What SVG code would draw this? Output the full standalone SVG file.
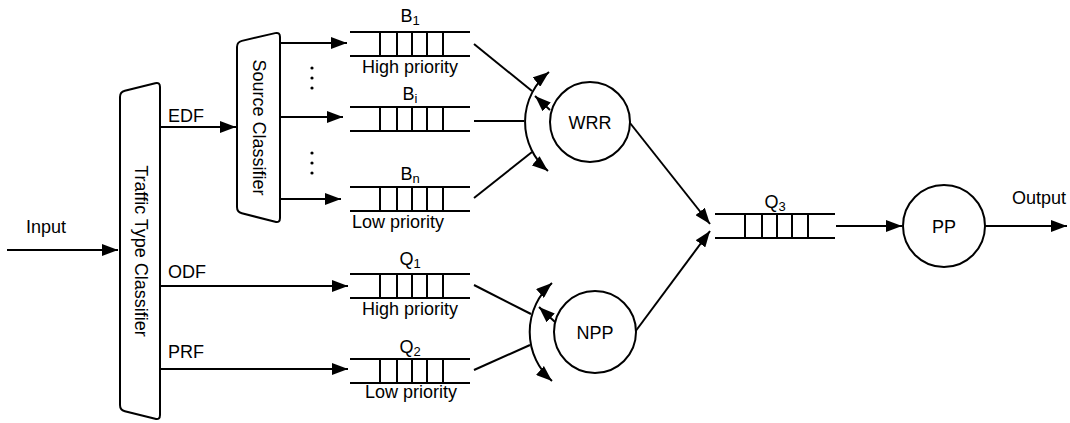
<svg xmlns="http://www.w3.org/2000/svg" xmlns:xlink="http://www.w3.org/1999/xlink" width="1070" height="423" viewBox="0 0 1070 423">
<style>
  text { font-family: "Liberation Sans", Arial, sans-serif; font-size: 18px; fill: #000; }
  .mid { text-anchor: middle; }
  .sub { font-size: 13px; }
  .shape { fill: #fff; stroke: #000; stroke-width: 2; stroke-linejoin: round; }
  .ln { fill: none; stroke: #000; stroke-width: 2; }
  .q { fill: none; stroke: #000; stroke-width: 2; }
  .arr { marker-end: url(#ah); }
  .dot { fill: #000; }
</style>
<defs>
  <marker id="ah" markerUnits="userSpaceOnUse" markerWidth="16" markerHeight="12" viewBox="0 0 16 12" refX="16" refY="6" orient="auto-start-reverse">
    <path d="M0,0 L16,6 L0,12 Z" fill="#000"/>
  </marker>
  <g id="queue" class="q">
    <path d="M0,0 H120 M0,24 H120 M30,0 V24 M47,0 V24 M62,0 V24 M77,0 V24 M93,0 V24"/>
  </g>
</defs>
<rect width="1070" height="423" fill="#fff"/>

<g id="connectors">
  <path class="ln arr" d="M7,250 L118,250"/>
  <path class="ln arr" d="M160,127 L236,127"/>
  <path class="ln arr" d="M280,43 L347,43"/>
  <path class="ln arr" d="M280,117 L343,117"/>
  <path class="ln arr" d="M280,199 L341,199"/>
  <path class="ln arr" d="M160,286 L348,286"/>
  <path class="ln arr" d="M160,369 L348,369"/>
  <path class="ln" d="M474,44 L532,91"/>
  <path class="ln" d="M474,121 L524,121"/>
  <path class="ln" d="M474,198 L532,152"/>
  <path class="ln arr" d="M550,110 L535,96"/>
  <path class="ln" d="M549,72 A64,64 0 0 0 548,171" marker-start="url(#ah)" marker-end="url(#ah)"/>
  <path class="ln" d="M474,285 L531,314"/>
  <path class="ln" d="M474,370 L530,345"/>
  <path class="ln arr" d="M555,322 L539,307"/>
  <path class="ln" d="M552,283 A65,65 0 0 0 552,381" marker-start="url(#ah)" marker-end="url(#ah)"/>
  <path class="ln arr" d="M630,123 L710,224"/>
  <path class="ln arr" d="M635,332 L710,231"/>
  <path class="ln arr" d="M836,226 L902,226"/>
  <path class="ln arr" d="M985,226 L1067,226"/>
  <text x="26" y="233">Input</text>
  <text x="168" y="122">EDF</text>
  <text x="168" y="278">ODF</text>
  <text x="168" y="358">PRF</text>
  <text x="1012" y="204">Output</text>
  <circle class="dot" cx="312" cy="68" r="1.6"/>
  <circle class="dot" cx="312" cy="78" r="1.6"/>
  <circle class="dot" cx="312" cy="88" r="1.6"/>
  <circle class="dot" cx="312" cy="153" r="1.6"/>
  <circle class="dot" cx="312" cy="163" r="1.6"/>
  <circle class="dot" cx="312" cy="173" r="1.6"/>
</g>

<g id="traffic-type-classifier">
  <path class="shape" d="M120,97 Q120,92 124.85,90.79 L155.15,83.21 Q160,82 160,87 L160,415 Q160,420 155.15,418.79 L124.85,411.21 Q120,410 120,405 Z"/>
  <text class="mid" transform="translate(141,251) rotate(90)" x="0" y="6">Traffic Type Classifier</text>
</g>

<g id="source-classifier">
  <path class="shape" d="M237,47 Q237,42 241.87,40.87 L275.13,33.13 Q280,32 280,37 L280,218 Q280,223 275.16,221.76 L241.84,213.24 Q237,212 237,207 Z"/>
  <text class="mid" transform="translate(259,127.5) rotate(90)" x="0" y="6">Source Classifier</text>
</g>

<g id="B1">
  <use href="#queue" x="350" y="32"/>
  <text class="mid" x="410" y="22">B<tspan class="sub" dy="3">1</tspan></text>
  <text class="mid" x="410" y="73">High priority</text>
</g>

<g id="Bi">
  <use href="#queue" x="350" y="107"/>
  <text class="mid" x="410" y="100">B<tspan class="sub" dy="3">i</tspan></text>
</g>

<g id="Bn">
  <use href="#queue" x="350" y="187"/>
  <text class="mid" x="410" y="180">B<tspan class="sub" dy="3">n</tspan></text>
  <text x="352" y="228">Low priority</text>
</g>

<g id="Q1">
  <use href="#queue" x="350" y="274"/>
  <text class="mid" x="410" y="265">Q<tspan class="sub" dy="3">1</tspan></text>
  <text class="mid" x="410" y="315">High priority</text>
</g>

<g id="Q2">
  <use href="#queue" x="350" y="359"/>
  <text class="mid" x="410" y="353">Q<tspan class="sub" dy="3">2</tspan></text>
  <text class="mid" x="411" y="398">Low priority</text>
</g>

<g id="WRR">
  <circle class="shape" cx="590" cy="122" r="40"/>
  <text class="mid" x="590" y="128.5">WRR</text>
</g>

<g id="NPP">
  <circle class="shape" cx="595" cy="332" r="41"/>
  <text class="mid" x="595" y="338.5">NPP</text>
</g>

<g id="Q3">
  <use href="#queue" x="715" y="214"/>
  <text class="mid" x="775" y="208">Q<tspan class="sub" dy="3">3</tspan></text>
</g>

<g id="PP">
  <circle class="shape" cx="944" cy="226" r="41"/>
  <text class="mid" x="944" y="232.5">PP</text>
</g>
</svg>
